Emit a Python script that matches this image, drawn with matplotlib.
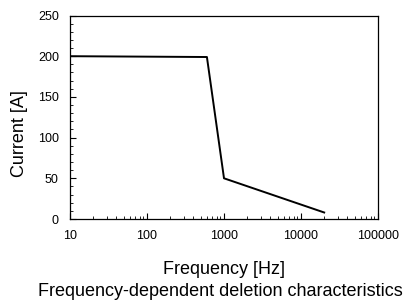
import matplotlib
matplotlib.use("Agg")
import matplotlib.pyplot as plt
from matplotlib.ticker import FixedLocator, LogLocator, MultipleLocator, NullFormatter

plt.rcParams['font.family'] = ['Liberation Sans', 'DejaVu Sans']

freq = [10, 600, 1000, 20000]
current = [200, 199, 50, 8]
xticks = [10, 100, 1000, 10000, 100000]
xticklabels = ['10', '100', '1000', '10000', '100000']
yticks = [0, 50, 100, 150, 200, 250]

fig = plt.figure(figsize=(4.12, 3.01), dpi=100)
ax = fig.add_axes([70 / 412, 1 - 219 / 301, 308 / 412, 203.5 / 301])

ax.plot(freq, current, color='black', linewidth=1.4)

ax.set_xscale('log')
ax.set_xlim(10, 100000)
ax.set_ylim(0, 250)
ax.xaxis.set_major_locator(FixedLocator(xticks))
ax.set_xticklabels(xticklabels)
ax.xaxis.set_minor_locator(LogLocator(base=10, subs=range(2, 10)))
ax.xaxis.set_minor_formatter(NullFormatter())
ax.set_yticks(yticks)
ax.yaxis.set_minor_locator(MultipleLocator(10))

ax.tick_params(which='both', direction='in', labelsize=9, top=False, right=False)
ax.tick_params(which='major', length=4, width=0.8)
ax.tick_params(which='minor', length=2.5, width=0.6)
ax.tick_params(axis='x', pad=8)
ax.tick_params(axis='y', pad=8)

for s in ax.spines.values():
    s.set_linewidth(0.9)

fig.text(20 / 412, 1 - 134 / 301, 'Current [A]', rotation=90,
         ha='center', va='center', fontsize=13)
fig.text(224 / 412, 1 - 270 / 301, 'Frequency [Hz]',
         ha='center', va='center', fontsize=13)
fig.text(220 / 412, 1 - 291 / 301, 'Frequency-dependent deletion characteristics',
         ha='center', va='center', fontsize=13)

fig.savefig('out.png', dpi=100)
